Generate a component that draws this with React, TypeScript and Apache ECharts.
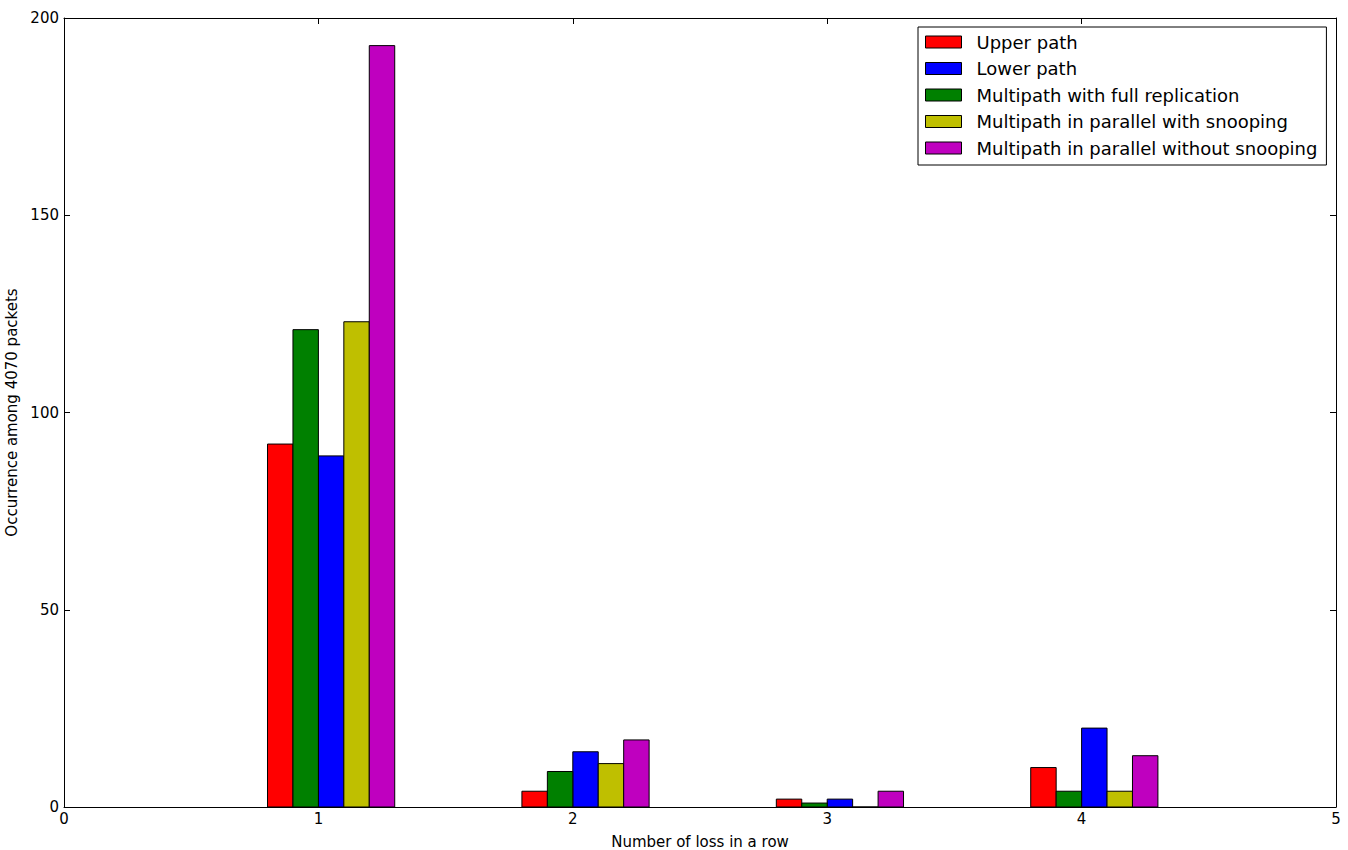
import React, { useEffect, useRef } from "react";
import * as echarts from "echarts";

const categories = [1, 2, 3, 4];
const upperPath = [92, 4, 2, 10];
const lowerPath = [89, 14, 2, 20];
const fullReplication = [121, 9, 1, 4];
const parallelSnooping = [123, 11, 0, 4];
const parallelNoSnooping = [193, 17, 4, 13];
const yTicks = [0, 50, 100, 150, 200];

const seriesDefs = [
  { name: "Upper path", data: upperPath, color: "#ff0000", slot: 0 },
  { name: "Lower path", data: lowerPath, color: "#0000ff", slot: 2 },
  { name: "Multipath with full replication", data: fullReplication, color: "#008000", slot: 1 },
  { name: "Multipath in parallel with snooping", data: parallelSnooping, color: "#bfbf00", slot: 3 },
  { name: "Multipath in parallel without snooping", data: parallelNoSnooping, color: "#bf00bf", slot: 4 },
];

const BAR_W = 0.1;
const FONT = "DejaVu Sans";

export default function App() {
  const ref = useRef<HTMLDivElement>(null);
  useEffect(() => {
    if (!ref.current) return;
    const chart = echarts.init(ref.current, null, { renderer: "svg" });
    const axisCommon = {
      axisLine: { show: true, onZero: false, lineStyle: { color: "#000", width: 1 } },
      axisTick: { show: true, inside: true, length: 6, lineStyle: { color: "#000" } },
      splitLine: { show: false },
    };
    const series = seriesDefs.map((s) => ({
      name: s.name,
      type: "custom",
      xAxisIndex: 0,
      yAxisIndex: 0,
      itemStyle: { color: s.color, borderColor: "#000", borderWidth: 1 },
      data: categories.map((c, i) => [c, s.data[i]]),
      renderItem: (params: any, api: any) => {
        const x0 = api.value(0) - 0.2 + s.slot * BAR_W;
        const v = api.value(1);
        const p0 = api.coord([x0, 0]);
        const p1 = api.coord([x0 + BAR_W, v]);
        return {
          type: "rect",
          shape: { x: p0[0], y: p1[1], width: p1[0] - p0[0], height: p0[1] - p1[1] },
          style: { fill: s.color, stroke: "#000", lineWidth: 1 },
        };
      },
    }));
    chart.setOption({
      animation: false,
      backgroundColor: "#fff",
      textStyle: { fontFamily: FONT },
      grid: { left: 64, top: 18, right: 12, bottom: 43, containLabel: false, outerBoundsMode: "none" },
      legend: {
        orient: "vertical",
        left: 918,
        top: 27,
        selectedMode: false,
        backgroundColor: "#fff",
        borderColor: "#000",
        borderWidth: 1,
        borderRadius: 0,
        padding: [6, 9, 8, 7],
        itemWidth: 36,
        itemHeight: 12,
        itemGap: 8.5,
        icon: "rect",
        textStyle: { fontFamily: FONT, fontSize: 18, color: "#000", lineHeight: 18, padding: [0, 0, 0, 10] },
        data: seriesDefs.map((s) => ({
          name: s.name,
          itemStyle: { color: s.color, borderColor: "#000", borderWidth: 1 },
        })),
      },
      xAxis: [
        {
          type: "value",
          min: 0,
          max: 5,
          interval: 1,
          position: "bottom",
          name: "Number of loss in a row",
          nameLocation: "middle",
          nameGap: 27,
          nameTextStyle: { fontFamily: FONT, fontSize: 15, color: "#000" },
          axisLabel: { fontFamily: FONT, fontSize: 15, color: "#000", margin: 4 },
          ...axisCommon,
        },
        {
          type: "value",
          min: 0,
          max: 5,
          interval: 1,
          position: "top",
          axisLabel: { show: false },
          ...axisCommon,
        },
      ],
      yAxis: [
        {
          type: "value",
          min: yTicks[0],
          max: yTicks[yTicks.length - 1],
          interval: 50,
          position: "left",
          name: "Occurrence among 4070 packets",
          nameLocation: "middle",
          nameGap: 41,
          nameRotate: 90,
          nameTextStyle: { fontFamily: FONT, fontSize: 15, color: "#000" },
          axisLabel: { fontFamily: FONT, fontSize: 15, color: "#000", margin: 5 },
          ...axisCommon,
        },
        {
          type: "value",
          min: yTicks[0],
          max: yTicks[yTicks.length - 1],
          interval: 50,
          position: "right",
          axisLabel: { show: false },
          ...axisCommon,
        },
      ],
      series,
    });
    return () => chart.dispose();
  }, []);
  return <div ref={ref} style={{ width: 1348, height: 850, position: "absolute", left: 0, top: 0 }} />;
}
